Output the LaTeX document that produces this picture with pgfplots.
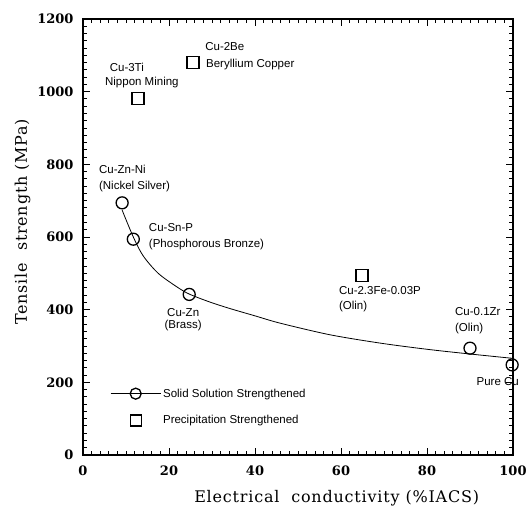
\documentclass[border=0pt]{standalone}
\usepackage{fontspec}
\setmainfont{DejaVu Serif}
\newfontfamily\annot{Liberation Sans}
\usepackage{pgfplots}
\pgfplotsset{compat=1.18}

\pgfplotstableread{
x y
9.1 694
11.7 594
24.7 442
90.0 294
99.8 248
}\solid

\pgfplotstableread{
x y
12.8 982
25.6 1080
64.9 494
}\precip

% fitted curve
\pgfplotstableread{
x y
9.1 674
11.7 600
14.0 548
17.5 500
21.8 463
24.7 443
29.5 421
34.2 403
40.0 383
45.8 363
57.4 331
69.1 308
80.0 291
90.0 278
100 266
}\fit

\begin{document}
\begin{tikzpicture}
\begin{axis}[
    scale only axis,
    width=430pt, height=436pt,
    xmin=0, xmax=100, ymin=0, ymax=1200,
    xtick={0,20,...,100}, ytick={0,200,...,1200},
    minor x tick num=9, minor y tick num=9,
    tick align=inside,
    major tick length=7pt, minor tick length=4pt,
    tick style={black, line width=1pt},
    tick label style={font=\fontsize{13}{15}\selectfont\bfseries},
    xticklabel style={yshift=-7pt},
    yticklabel style={xshift=-6pt},
    /pgf/number format/assume math mode=true,
    /pgf/number format/1000 sep={},
    xlabel={Electrical\ \ conductivity\ (\%IACS)},
    ylabel={Tensile\ \ strength\ (MPa)},
    label style={font=\fontsize{16}{18}\selectfont\addfontfeature{LetterSpace=5}},
    xlabel style={at={(ticklabel cs:0.59)}, yshift=-8pt},
    ylabel style={at={(ticklabel cs:0.535)}},
    legend style={draw=none, fill=none, at={(0.063,0.157)}, anchor=north west,
        font=\annot\fontsize{11.5}{13}\selectfont, row sep=13pt, inner sep=0pt},
    legend cell align=left,
    clip=false,
]
\draw[line width=1.6pt] (rel axis cs:0,0) rectangle (rel axis cs:1,1);
\addplot[black, line width=0.8pt, smooth, forget plot] table {\fit};
\addplot[only marks, mark=o, mark size=6pt, mark options={line width=1.3pt, black},
    legend image code/.code={
        \draw[black, line width=0.8pt] (0pt,0pt) -- (50pt,0pt);
        \draw[black, line width=1.3pt] (25pt,0pt) circle (5.5pt);}
    ] table {\solid};
\addlegendentry{Solid Solution Strengthened}
\addplot[only marks, mark=square, mark size=6pt, mark options={line width=1.3pt, black},
    legend image code/.code={
        \draw[black, line width=1.3pt] (19.5pt,-5.5pt) rectangle (30.5pt,5.5pt);}
    ] table {\precip};
\addlegendentry{Precipitation Strengthened}

\begin{scope}[every node/.style={font=\annot\fontsize{11.5}{13}\selectfont, inner sep=0pt}]
\node[anchor=center] at (axis cs:10.2,1068) {Cu-3Ti};
\node[anchor=west] at (axis cs:5.1,1024) {Nippon Mining};
\node[anchor=west] at (axis cs:28.4,1125) {Cu-2Be};
\node[anchor=west] at (axis cs:28.6,1076) {Beryllium Copper};
\node[anchor=west] at (axis cs:3.7,787) {Cu-Zn-Ni};
\node[anchor=west] at (axis cs:3.7,740) {(Nickel Silver)};
\node[anchor=west] at (axis cs:15.3,627) {Cu-Sn-P};
\node[anchor=west] at (axis cs:15.3,578) {(Phosphorous Bronze)};
\node[anchor=center] at (axis cs:23.3,393) {Cu-Zn};
\node[anchor=center] at (axis cs:23.3,355) {(Brass)};
\node[anchor=west] at (axis cs:59.5,454) {Cu-2.3Fe-0.03P};
\node[anchor=west] at (axis cs:59.5,408) {(Olin)};
\node[anchor=west] at (axis cs:86.5,394) {Cu-0.1Zr};
\node[anchor=west] at (axis cs:86.5,347) {(Olin)};
\node[anchor=west] at (axis cs:91.5,203) {Pure Cu};
\end{scope}
\end{axis}
% inward tick marks on all four sides of the 430pt x 436pt box
\begin{scope}[shift={(current axis.south west)}, line width=1pt]
\foreach \x in {0,2,...,100}{
    \draw (\x*4.3pt,0pt) -- ++(0pt,4pt);
    \draw (\x*4.3pt,436pt) -- ++(0pt,-4pt);}
\foreach \x in {0,20,...,100}{
    \draw (\x*4.3pt,0pt) -- ++(0pt,7pt);
    \draw (\x*4.3pt,436pt) -- ++(0pt,-7pt);}
\foreach \y in {0,20,...,1200}{
    \draw (0pt,\y*0.363333pt) -- ++(4pt,0pt);
    \draw (430pt,\y*0.363333pt) -- ++(-4pt,0pt);}
\foreach \y in {0,200,...,1200}{
    \draw (0pt,\y*0.363333pt) -- ++(7pt,0pt);
    \draw (430pt,\y*0.363333pt) -- ++(-7pt,0pt);}
\end{scope}
\pgfresetboundingbox
\path[use as bounding box] ([shift={(-83pt,-57pt)}]current axis.south west) rectangle ([shift={(13pt,19pt)}]current axis.north east);
\end{tikzpicture}
\end{document}
